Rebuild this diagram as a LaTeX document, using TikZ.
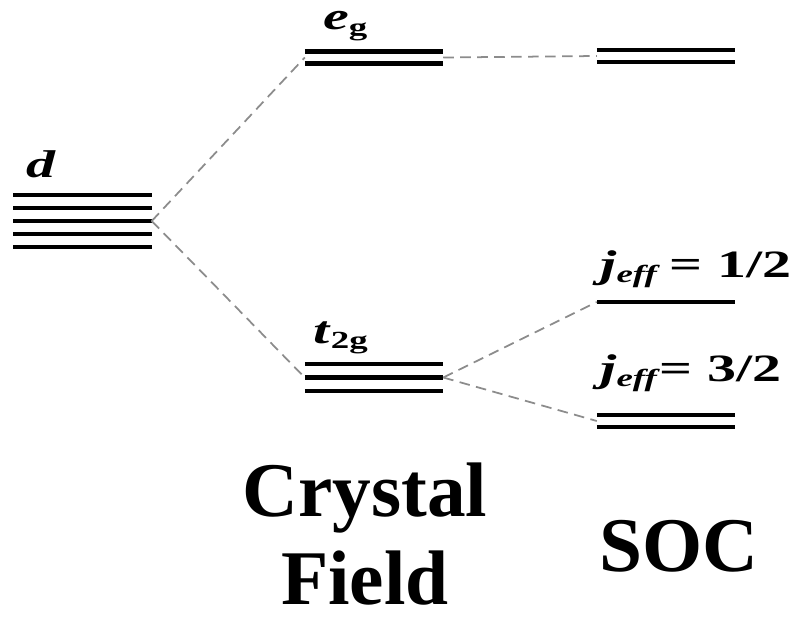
\documentclass[tikz,border=0pt]{standalone}
\usepackage{fontspec}
\setmainfont{Liberation Serif}
\usetikzlibrary{calc}
\definecolor{dashgray}{RGB}{140,140,140}
\tikzset{
  lvbox/.style={inner sep=0pt, minimum width=4.14cm, minimum height=0pt},
  lvline/.style={line width=4.25pt, draw=black},
  lvdash/.style={draw=dashgray, line width=1.5pt, dash pattern=on 9pt off 5.5pt},
  lvlabel/.style={anchor=base west, inner sep=0pt, font=\fontsize{33}{40}\selectfont\bfseries},
  bigtitle/.style={inner sep=0pt, align=center, font=\fontsize{66}{75}\selectfont\bfseries}
}
\newcommand\lvtxt[1]{\scalebox{1.5}[1]{#1}}
\newcommand\lvsub[1]{\raisebox{-5pt}{\fontsize{21}{21}\selectfont #1}}

\begin{document}
\begin{tikzpicture}[x=0.03cm,y=-0.03cm]
  \useasboundingbox (0,0) rectangle (797,621);
  % energy levels
  \node[lvbox] (d) at (82.5,221) {};
  \node[lvbox] (eg) at (374,57.5) {};
  \node[lvbox] (tg) at (374,377.5) {};
  \node[lvbox] (soceg) at (666,56) {};
  \node[lvbox] (jhalf) at (666,302) {};
  \node[lvbox] (jthree) at (666,421) {};
  \foreach \dy in {-26,-13,0,13,26}
    \draw[lvline] ($(d.west)+(0,\dy)$) -- ($(d.east)+(0,\dy)$);
  \foreach \dy in {-6,6}
    \draw[lvline] ($(eg.west)+(0,\dy)$) -- ($(eg.east)+(0,\dy)$);
  \foreach \dy in {-13.5,0,13.5}
    \draw[lvline] ($(tg.west)+(0,\dy)$) -- ($(tg.east)+(0,\dy)$);
  \foreach \dy in {-6,6}
    \draw[lvline] ($(soceg.west)+(0,\dy)$) -- ($(soceg.east)+(0,\dy)$);
  \draw[lvline] (jhalf.west) -- (jhalf.east);
  \foreach \dy in {-6,6}
    \draw[lvline] ($(jthree.west)+(0,\dy)$) -- ($(jthree.east)+(0,\dy)$);
  % labels
  \node[lvlabel] (dlab) at (26,177) {\lvtxt{\textit{d}}};
  \node[lvlabel] (eglab) at (323,30) {\lvtxt{\textit{e}\lvsub{g}}};
  \node[lvlabel] (tglab) at (313,343) {\lvtxt{\textit{t}\lvsub{2g}}};
  \node[lvlabel] (jhlab) at (600,277) {\lvtxt{\textit{j}\lvsub{\textit{eff}}\,= 1/2}};
  \node[lvlabel] (jtlab) at (600,381) {\lvtxt{\textit{j}\lvsub{\textit{eff}}= 3/2}};
  % splitting
  \draw[lvdash] (d.east) -- (eg.west);
  \draw[lvdash] (d.east) -- (tg.west);
  \draw[lvdash] (eg.east) -- (soceg.west);
  \draw[lvdash] (tg.east) -- (jhalf.west);
  \draw[lvdash] (tg.east) -- (jthree.west);
  % titles
  \node[bigtitle, anchor=base] (cf) at (365,604) {Crystal\\Field};
  \node[bigtitle, anchor=base] (soc) at (679,571) {SOC};
\end{tikzpicture}
\end{document}
